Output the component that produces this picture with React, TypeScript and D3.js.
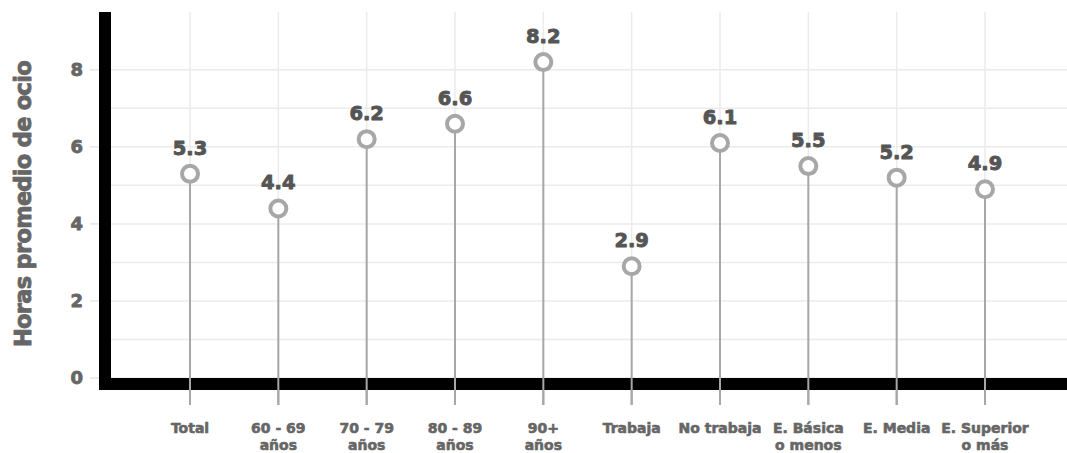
import React from "react";
import * as d3 from "d3";

// Categories (two-line tick labels) and average leisure hours
const categories: string[][] = [
  ["Total"],
  ["60 - 69", "años"],
  ["70 - 79", "años"],
  ["80 - 89", "años"],
  ["90+", "años"],
  ["Trabaja"],
  ["No trabaja"],
  ["E. Básica", "o menos"],
  ["E. Media"],
  ["E. Superior", "o más"],
];
const values: number[] = [5.3, 4.4, 6.2, 6.6, 8.2, 2.9, 6.1, 5.5, 5.2, 4.9];
const majorTicks: number[] = [0, 2, 4, 6, 8];
const minorTicks: number[] = [1, 3, 5, 7];

const W = 1067;
const H = 453;
const FONT = "'DejaVu Sans', sans-serif";

// heavier look for bold text
const heavy = (color: string, w: number) => ({
  stroke: color,
  strokeWidth: w,
  paintOrder: "stroke" as const,
  strokeLinejoin: "round" as const,
});

export default function App() {
  const keys = categories.map((c) => c.join(" "));
  const x = d3.scalePoint<string>().domain(keys).range([190, 985]);
  const y = d3.scaleLinear().domain([0, 9.5]).range([378, 12]);

  const panelLeft = 105;
  const panelRight = W;
  const panelTop = y(9.5);
  const panelBottom = 384;
  const stemColor = "#a7a7aa";
  const gridColor = "#ebebeb";

  return (
    <div style={{ position: "absolute", left: 0, top: 0 }}>
      <svg width={W} height={H} style={{ display: "block", background: "#fff" }}>
        {/* grid */}
        {[...minorTicks, ...majorTicks].map((t) => (
          <line key={"h" + t} x1={panelLeft} x2={panelRight} y1={y(t)} y2={y(t)} stroke={gridColor} strokeWidth={1.5} />
        ))}
        {keys.map((k) => (
          <line key={"v" + k} x1={x(k)} x2={x(k)} y1={panelTop} y2={panelBottom} stroke={gridColor} strokeWidth={1.5} />
        ))}

        {/* y ticks and labels */}
        {majorTicks.map((t) => (
          <g key={"yt" + t}>
            <line x1={90} x2={panelLeft} y1={y(t)} y2={y(t)} stroke="#e6e6e6" strokeWidth={1.5} />
            <text x={83} y={y(t)} dy="0.36em" textAnchor="end" fontFamily={FONT} fontWeight={700} fontSize={18} fill="#666666" {...heavy("#666666", 0.8)}>
              {t}
            </text>
          </g>
        ))}

        {/* y axis title */}
        <text
          transform={`translate(31,${(panelTop + 390) / 2 + 3}) rotate(-90)`}
          textAnchor="middle"
          fontFamily={FONT}
          fontWeight={700}
          fontSize={22.5}
          letterSpacing={-0.7}
          fill="#666666"
          {...heavy("#666666", 0.9)}
        >
          Horas promedio de ocio
        </text>

        {/* stems */}
        {keys.map((k, i) => (
          <line key={"s" + k} x1={x(k)} x2={x(k)} y1={y(values[i])} y2={405} stroke={stemColor} strokeWidth={2} />
        ))}

        {/* axis lines */}
        <line x1={panelLeft} x2={panelLeft} y1={panelTop} y2={390} stroke="#000" strokeWidth={12} />
        <line x1={99} x2={panelRight} y1={panelBottom} y2={panelBottom} stroke="#000" strokeWidth={12} />
        {keys.map((k) => (
          <line key={"xt" + k} x1={x(k)} x2={x(k)} y1={378} y2={405} stroke={stemColor} strokeWidth={2} />
        ))}

        {/* points and value labels */}
        {keys.map((k, i) => (
          <g key={"p" + k}>
            <circle cx={x(k)} cy={y(values[i])} r={8} fill="#fff" stroke={stemColor} strokeWidth={4} />
            <text x={x(k)} y={y(values[i]) - 19} textAnchor="middle" fontFamily={FONT} fontWeight={700} fontSize={19.5} fill="#555555" {...heavy("#555555", 0.9)}>
              {values[i].toFixed(1)}
            </text>
          </g>
        ))}

        {/* x labels */}
        {categories.map((lines, i) => (
          <text key={"xl" + i} x={x(keys[i])} y={433} textAnchor="middle" fontFamily={FONT} fontWeight={700} fontSize={14} fill="#666666" {...heavy("#666666", 0.6)}>
            {lines.map((ln, j) => (
              <tspan key={j} x={x(keys[i])} dy={j === 0 ? 0 : 16.5}>
                {ln}
              </tspan>
            ))}
          </text>
        ))}
      </svg>
    </div>
  );
}
